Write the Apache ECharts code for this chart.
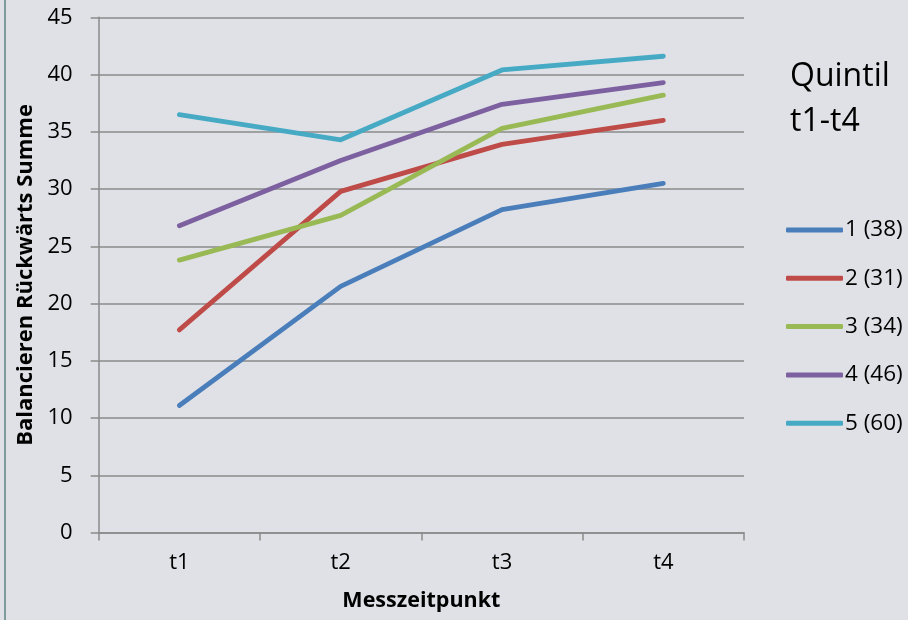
<!DOCTYPE html>
<html>
<head>
<meta charset="utf-8">
<script src="https://cdn.jsdelivr.net/npm/echarts@6/dist/echarts.min.js"></script>
<style>
  html, body { margin: 0; padding: 0; background: #e0e1e6; }
  #chart { width: 908px; height: 620px; }
</style>
</head>
<body>
<div id="chart"></div>
<script>
// Measurement points
var categories = ['t1', 't2', 't3', 't4'];

// Quintile groups (n in brackets)
var seriesNames = ['1 (38)', '2 (31)', '3 (34)', '4 (46)', '5 (60)'];
var q1 = [11.1, 21.5, 28.2, 30.5];
var q2 = [17.7, 29.8, 33.9, 36.0];
var q3 = [23.8, 27.7, 35.3, 38.2];
var q4 = [26.8, 32.5, 37.4, 39.3];
var q5 = [36.5, 34.3, 40.4, 41.6];
var seriesValues = [q1, q2, q3, q4, q5];
var seriesColors = ['#4a7ebb', '#be4b48', '#98b954', '#7d60a0', '#46aac5'];

// Value axis ticks
var yMin = 0, yMax = 45, yStep = 5;

var FONT = '"Open Sans", "Noto Sans", sans-serif';
var AXIS_GREY = '#8a8a8a';

var chart = echarts.init(document.getElementById('chart'), null, { renderer: 'canvas' });

var series = seriesValues.map(function (vals, i) {
  return {
    name: seriesNames[i],
    type: 'line',
    data: vals,
    symbol: 'none',
    smooth: false,
    color: seriesColors[i],
    lineStyle: { width: 4.8, color: seriesColors[i], cap: 'round', join: 'round' },
    emphasis: { disabled: true },
    animation: false
  };
});

chart.setOption({
  backgroundColor: '#e0e1e6',
  animation: false,
  textStyle: { fontFamily: FONT },
  title: {
    text: 'Quintil\nt1-t4',
    left: 785,
    top: 49,
    textStyle: { fontFamily: FONT, fontSize: 32, fontWeight: 'normal', color: '#000', lineHeight: 45 }
  },
  legend: {
    orient: 'vertical',
    left: 781,
    top: 213,
    itemWidth: 57,
    itemHeight: 5,
    itemGap: 24.3,
    icon: 'roundRect',
    data: seriesNames,
    textStyle: { fontFamily: FONT, fontSize: 22.5, color: '#000', lineHeight: 24, padding: [0, 0, 0, -3] },
    selectedMode: false
  },
  grid: { left: 98.7, right: 164, top: 17.3, bottom: 87.4, containLabel: false },
  xAxis: {
    type: 'category',
    data: categories,
    boundaryGap: true,
    name: 'Messzeitpunkt',
    nameLocation: 'middle',
    nameGap: 57,
    nameTextStyle: { fontFamily: FONT, fontSize: 21.5, fontWeight: 'bold', color: '#000' },
    axisLine: { show: true, lineStyle: { color: AXIS_GREY, width: 1.5 } },
    axisTick: { show: true, alignWithLabel: false, length: 8, inside: false, lineStyle: { color: AXIS_GREY, width: 1.5 } },
    axisLabel: { margin: 19, fontFamily: FONT, fontSize: 22, color: '#000' },
    splitLine: { show: false }
  },
  yAxis: {
    type: 'value',
    min: yMin,
    max: yMax,
    interval: yStep,
    name: 'Balancieren Rückwärts Summe',
    nameLocation: 'middle',
    nameGap: 62,
    nameTextStyle: { fontFamily: FONT, fontSize: 22, fontWeight: 'bold', color: '#000' },
    axisLine: { show: true, lineStyle: { color: AXIS_GREY, width: 1.5 } },
    axisTick: { show: true, length: 8, inside: false, lineStyle: { color: AXIS_GREY, width: 1.5 } },
    axisLabel: { margin: 26, fontFamily: FONT, fontSize: 22, color: '#000' },
    splitLine: { show: true, lineStyle: { color: AXIS_GREY, width: 1.5 } }
  },
  graphic: [{
    // left frame edge of the chart area
    type: 'rect',
    left: 4,
    top: 0,
    shape: { width: 2, height: 620 },
    style: { fill: '#7e9c9c' },
    silent: true
  }],
  series: series
});
</script>
</body>
</html>
